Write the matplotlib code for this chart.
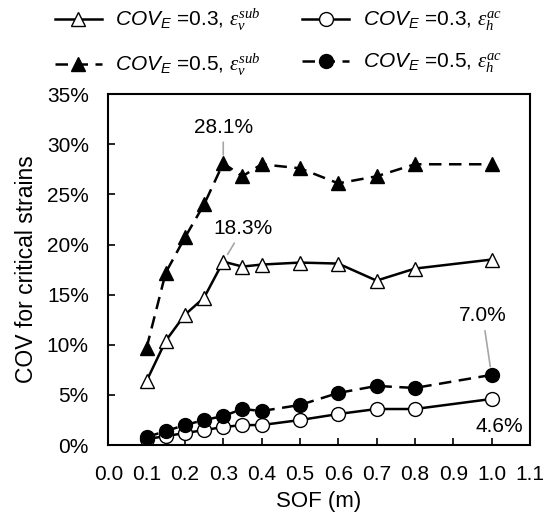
import numpy as np
import matplotlib
matplotlib.use("Agg")
import matplotlib.pyplot as plt
from matplotlib.ticker import PercentFormatter

plt.rcParams['font.family'] = ['Liberation Sans', 'DejaVu Sans']
plt.rcParams['mathtext.fontset'] = 'custom'
plt.rcParams['mathtext.rm'] = 'Liberation Sans'
plt.rcParams['mathtext.sf'] = 'Liberation Sans:italic'
plt.rcParams['mathtext.it'] = 'Liberation Serif:italic'

# SOF values (m)
sof = [0.1, 0.15, 0.2, 0.25, 0.3, 0.35, 0.4, 0.5, 0.6, 0.7, 0.8, 1.0]

# COV of critical strains (%)
cov03_sub = [6.4, 10.4, 13.0, 14.7, 18.3, 17.8, 18.0, 18.2, 18.1, 16.4, 17.6, 18.5]
cov05_sub = [9.7, 17.2, 20.7, 24.0, 28.1, 26.8, 28.0, 27.6, 26.1, 26.8, 28.0, 28.0]
cov03_ac = [0.6, 0.9, 1.2, 1.5, 1.8, 2.0, 2.0, 2.5, 3.1, 3.6, 3.6, 4.6]
cov05_ac = [0.8, 1.4, 2.0, 2.5, 2.9, 3.6, 3.4, 4.0, 5.2, 5.9, 5.7, 7.0]

xticks = np.round(np.arange(0, 1.11, 0.1), 1)
yticks = [0, 5, 10, 15, 20, 25, 30, 35]

fig = plt.figure(figsize=(5.44, 5.14), dpi=100)
ax = fig.add_axes([0.199, 0.134, 0.775, 0.683])

dash = (5, 3)
lw = 1.8
ax.plot(sof, cov03_sub, color='black', lw=lw, marker='^', ms=10,
        mfc='white', mec='black', mew=1.0,
        label=r'$\mathsf{COV_E}$ =0.3, $\varepsilon_v^{sub}$')
ax.plot(sof, cov03_ac, color='black', lw=lw, marker='o', ms=10,
        mfc='white', mec='black', mew=1.0,
        label=r'$\mathsf{COV_E}$ =0.3, $\varepsilon_h^{ac}$')
ax.plot(sof, cov05_sub, color='black', lw=lw, ls=(0, dash), marker='^', ms=10,
        mfc='black', mec='black',
        label=r'$\mathsf{COV_E}$ =0.5, $\varepsilon_v^{sub}$')
ax.plot(sof, cov05_ac, color='black', lw=lw, ls=(0, dash), marker='o', ms=10,
        mfc='black', mec='black',
        label=r'$\mathsf{COV_E}$ =0.5, $\varepsilon_h^{ac}$')

# value call-outs
arrow = dict(arrowstyle='-', color='#a6a6a6', lw=1.2, shrinkA=2, shrinkB=6)
ax.annotate('28.1%', xy=(sof[4], cov05_sub[4]), xytext=(0.3, 31.7),
            ha='center', va='center', fontsize=15, arrowprops=arrow)
ax.annotate('18.3%', xy=(sof[4], cov03_sub[4]), xytext=(0.352, 21.6),
            ha='center', va='center', fontsize=15, arrowprops=arrow)
ax.annotate('7.0%', xy=(sof[-1], cov05_ac[-1]), xytext=(0.977, 12.9),
            ha='center', va='center', fontsize=15, arrowprops=arrow)
ax.annotate('4.6%', xy=(sof[-1], cov03_ac[-1]), xytext=(1.02, 1.9),
            ha='center', va='center', fontsize=15)

ax.set_xlim(0, 1.1)
ax.set_ylim(0, 35)
ax.set_xticks(xticks)
ax.set_xticklabels([f'{t:.1f}' for t in xticks])
ax.set_yticks(yticks)
ax.yaxis.set_major_formatter(PercentFormatter(decimals=0))
ax.tick_params(direction='in', length=5, width=1.2, labelsize=15)
ax.tick_params(axis='x', pad=14)
ax.tick_params(axis='y', pad=14)
for sp in ax.spines.values():
    sp.set_linewidth(1.5)

ax.set_xlabel('SOF (m)', fontsize=16, labelpad=5)
ax.set_ylabel('COV for critical strains', fontsize=16.5, labelpad=6)

handles, labels = ax.get_legend_handles_labels()
order = [0, 2, 1, 3]
fig.legend([handles[i] for i in order], [labels[i] for i in order],
           loc='upper left', bbox_to_anchor=(55 / 544, 1 - 7 / 514), ncol=2,
           frameon=False, fontsize=15, handlelength=2.25,
           borderpad=0, borderaxespad=0,
           labelspacing=0.9, columnspacing=2.0, handletextpad=0.65)

fig.savefig('out.png', dpi=100)
